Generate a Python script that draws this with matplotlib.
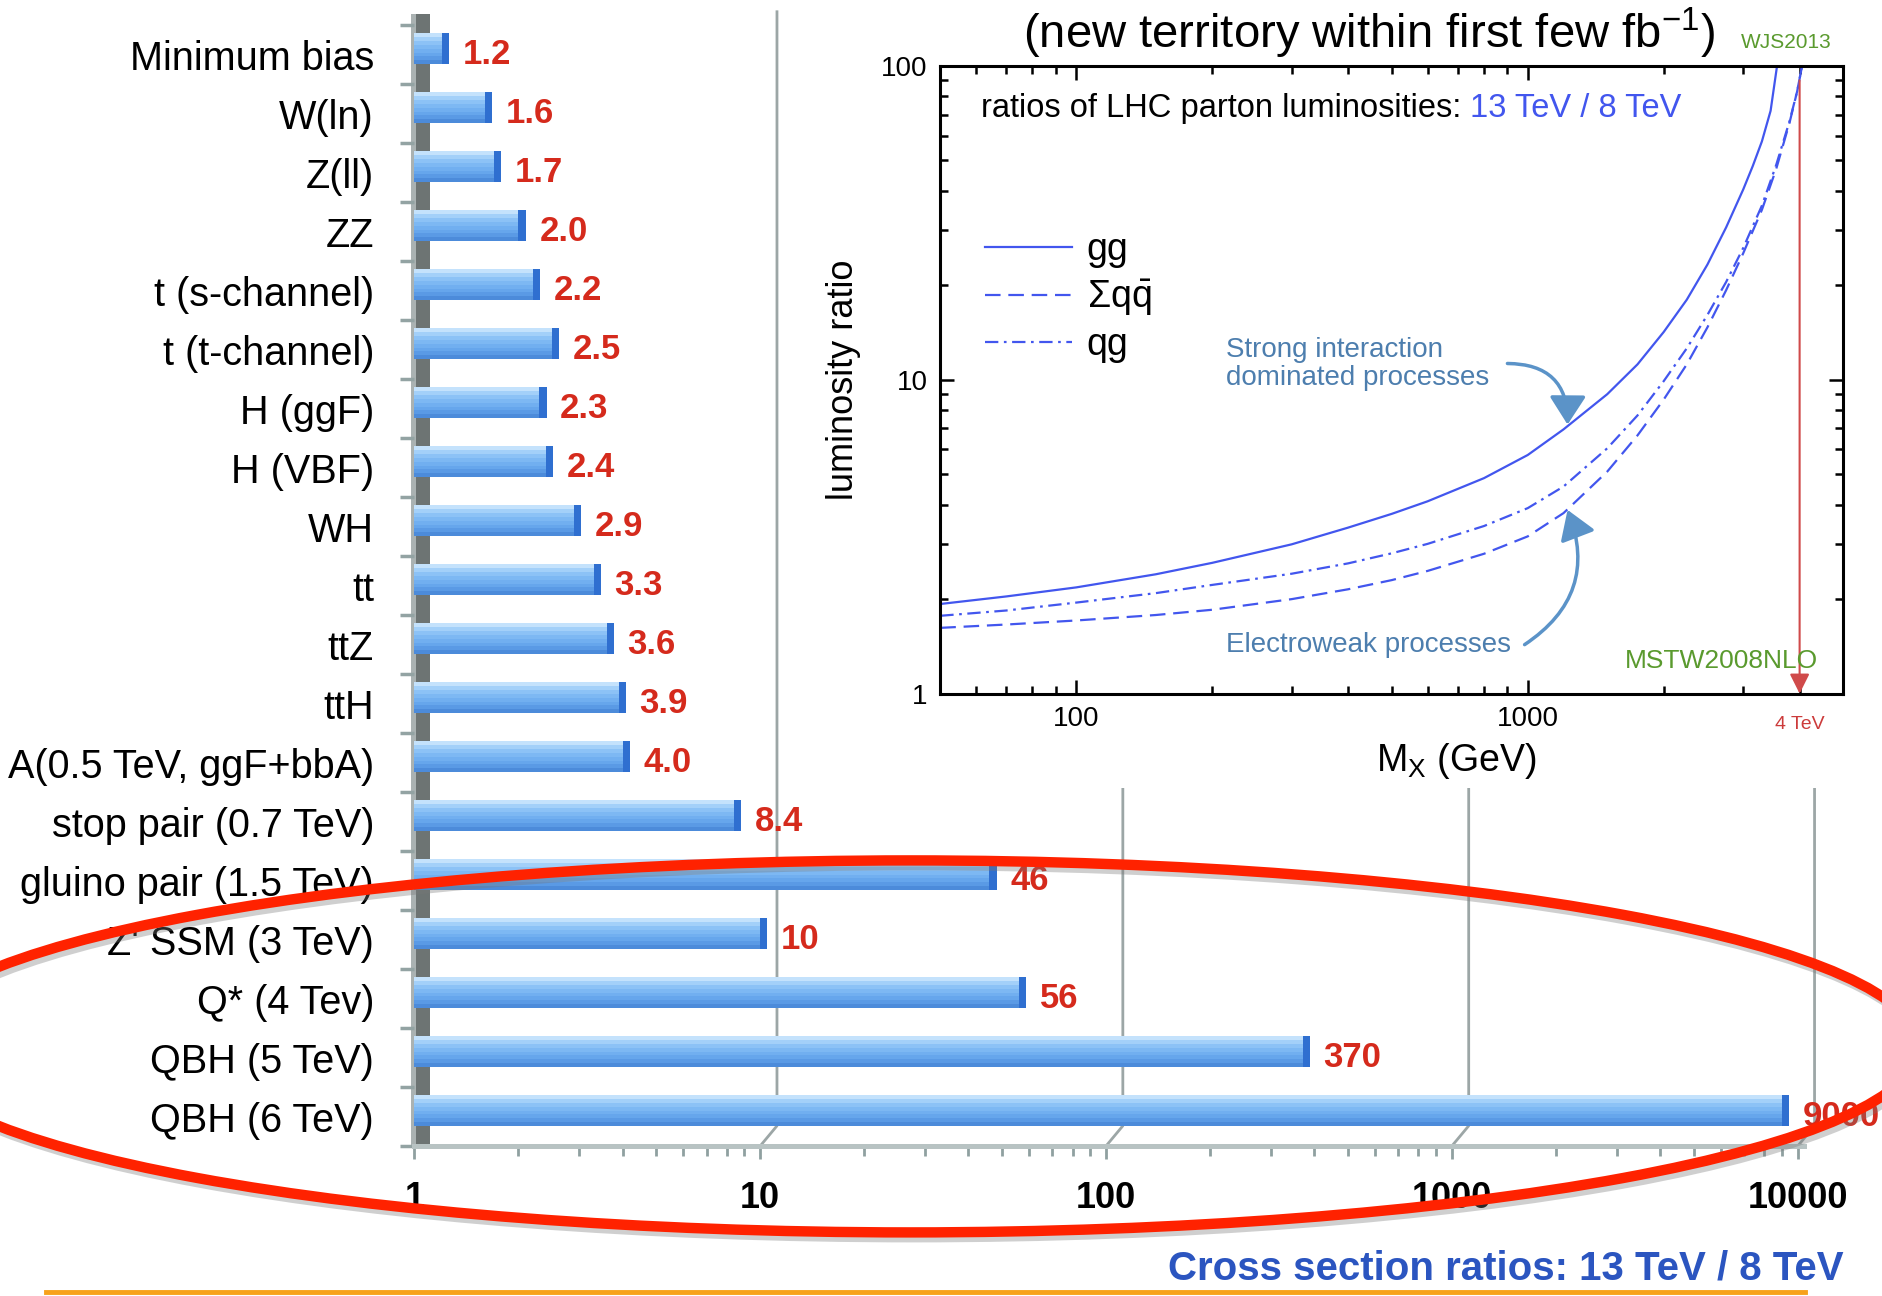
import numpy as np
import matplotlib
import matplotlib.pyplot as plt
from matplotlib.patches import Rectangle, Ellipse
from matplotlib.lines import Line2D
from matplotlib.ticker import LogLocator, NullFormatter, FuncFormatter

matplotlib.use("Agg")

plt.rcParams['font.family'] = ['Liberation Sans', 'DejaVu Sans']
plt.rcParams['mathtext.fontset'] = 'custom'
plt.rcParams['mathtext.rm'] = 'Liberation Sans'
plt.rcParams['mathtext.it'] = 'Liberation Sans:italic'

# cross section ratios 13 TeV / 8 TeV
processes = ['Minimum bias', 'W(ln)', 'Z(ll)', 'ZZ', 't (s-channel)', 't (t-channel)',
             'H (ggF)', 'H (VBF)', 'WH', 'tt', 'ttZ', 'ttH', 'A(0.5 TeV, ggF+bbA)',
             'stop pair (0.7 TeV)', 'gluino pair (1.5 TeV)', "Z' SSM (3 TeV)",
             'Q* (4 Tev)', 'QBH (5 TeV)', 'QBH (6 TeV)']
ratios = [1.2, 1.6, 1.7, 2.0, 2.2, 2.5, 2.3, 2.4, 2.9, 3.3, 3.6, 3.9, 4.0, 8.4,
          46, 10, 56, 370, 9000]
ratio_text = ['1.2', '1.6', '1.7', '2.0', '2.2', '2.5', '2.3', '2.4', '2.9', '3.3',
              '3.6', '3.9', '4.0', '8.4', '46', '10', '56', '370', '9000']
xticks_main = [1, 10, 100, 1000, 10000]

# parton luminosity ratios 13 / 8 TeV (inset)
gg_mass = [50, 70, 100, 150, 200, 300, 400, 500, 600, 800, 1000, 1200, 1500, 1750,
           2000, 2250, 2500, 2750, 3000, 3150, 3300, 3450, 3565]
gg_ratio = [1.93, 2.04, 2.18, 2.40, 2.61, 2.99, 3.38, 3.74, 4.10, 4.86, 5.76, 6.95, 9.0,
            11.2, 14.2, 18.0, 23.3, 30.6, 40.4, 48, 57.5, 72, 100]
qq_mass = [50, 70, 100, 150, 200, 300, 400, 500, 600, 800, 1000, 1200, 1500, 1750,
           2000, 2250, 2500, 2750, 3000, 3300, 3550, 3800, 3950, 4050]
qq_ratio = [1.62, 1.66, 1.71, 1.78, 1.85, 2.00, 2.15, 2.30, 2.46, 2.79, 3.17, 3.76, 5.1,
            6.65, 8.65, 11.2, 14.7, 19.3, 25.3, 34.8, 47, 66, 83, 100]
qg_mass = [50, 70, 100, 150, 200, 300, 400, 500, 600, 800, 1000, 1200, 1500, 1750,
           2000, 2250, 2500, 2750, 3000, 3300, 3550, 3800, 3950, 4050]
qg_ratio = [1.77, 1.84, 1.95, 2.09, 2.22, 2.41, 2.60, 2.80, 3.00, 3.42, 3.90, 4.57, 6.05,
            7.7, 9.9, 12.6, 16.1, 20.5, 26.3, 35.9, 48.4, 66.7, 83, 100]

# layout grid (reference drawn on a 1568 x 1080 grid)
GW, GH = 1568.0, 1080.0
def fx(x):
    return x / GW
def fy(y):
    return 1 - y / GH

fig = plt.figure(figsize=(18.83, 12.96), dpi=100)

# ---------------- main bar chart ----------------
ax = fig.add_axes([fx(345), fy(955), fx(1568 - 345), (955 - 21) / GH])
ax.set_zorder(0)
decade = 288.0
ax.set_xscale('log')
ax.set_xlim(1, 10 ** ((1568 - 345) / decade))
ax.set_ylim(len(processes) - 0.5, -0.5)

ypos = np.arange(len(processes))
vals = np.array(ratios)
bar_h = 0.52
strip_cols = ['#c4e2fc', '#a3d0f9', '#8cc2f6', '#7db8f3', '#71aff0', '#66a6ec', '#5a9ae5', '#4c8bda']
n = len(strip_cols)
for k, c in enumerate(strip_cols):
    off = -0.1 - bar_h / 2 + (k + 0.5) * bar_h / n
    ax.barh(ypos + off, vals - 1, left=1, height=bar_h / n, color=c, lw=0, zorder=3)
# dark blue end caps
cap = 10 ** (6 / decade)
ax.barh(ypos - 0.1, vals * cap - vals, left=vals, height=bar_h, color='#2f6fd0', lw=0, zorder=3)

for i, (v, t) in enumerate(zip(ratios, ratio_text)):
    ax.annotate(t, xy=(v, i), xytext=(15, 0), textcoords='offset points', ha='left',
                va='center', color='#d52a1c', fontsize=25, fontweight='bold',
                annotation_clip=False, zorder=4)

# back wall gridlines (3D offset)
depth = 10 ** (14 / decade)
for g in [10, 100, 1000, 10000]:
    ax.plot([g, g * depth, g * depth], [0, 0.018, 1.012], transform=ax.get_xaxis_transform(),
            color='#9ca6a6', lw=2, clip_on=False, zorder=1)

# left wall
ax.add_patch(Rectangle((fx(342), fy(955)), fx(4), (955 - 12) / GH, transform=fig.transFigure,
                       color='#aab2b2', lw=0, clip_on=False, zorder=1.5))
ax.add_patch(Rectangle((fx(346), fy(955)), fx(12), (955 - 12) / GH, transform=fig.transFigure,
                       color='#6d7473', lw=0, clip_on=False, zorder=1.5))

for s in ['top', 'right', 'left']:
    ax.spines[s].set_visible(False)
ax.spines['bottom'].set_color('#b8c3c3')
ax.spines['bottom'].set_linewidth(3.6)
ax.spines['bottom'].set_bounds(1, 10400)

ax.set_yticks(ypos)
ax.set_yticklabels(processes, fontsize=28.5)
ax.set_yticks(np.arange(-0.5, len(processes), 1), minor=True)
ax.tick_params(axis='y', which='major', length=0, pad=29)
ax.tick_params(axis='y', which='minor', length=10, width=2.5, color='#93a3a3')

ax.set_xticks(xticks_main)
ax.set_xticklabels([str(t) for t in xticks_main], fontsize=26, fontweight='bold')
ax.xaxis.set_minor_locator(LogLocator(base=10, subs=np.arange(2, 10)))
ax.xaxis.set_minor_formatter(NullFormatter())
ax.tick_params(axis='x', which='major', length=9, width=2, color='#8fa0a0', pad=16)
ax.tick_params(axis='x', which='minor', length=7, width=2, color='#8fa0a0')
ax.patch.set_visible(False)

# ---------------- inset (parton luminosities) ----------------
fig.add_artist(Rectangle((fx(655), fy(657)), fx(1568 - 655), 657 / GH, transform=fig.transFigure,
                         color='white', lw=0, zorder=1))

axi = fig.add_axes([fx(783), fy(578), fx(752), 523 / GH])
axi.set_zorder(2)
blue = '#4256ee'
axi.plot(gg_mass, gg_ratio, color=blue, lw=1.6, label='gg')
axi.plot(qq_mass, qq_ratio, color=blue, lw=1.6, ls=(0, (7, 3.5)),
         label=r'$\Sigma\mathrm{q}\bar{\mathrm{q}}$')
axi.plot(qg_mass, qg_ratio, color=blue, lw=1.6, ls=(0, (6, 2.5, 1.2, 2.5)), label='qg')
axi.set_xscale('log')
axi.set_yscale('log')
axi.set_xlim(50, 5000)
axi.set_ylim(1, 100)
for s in axi.spines.values():
    s.set_linewidth(2.2)
fmt = FuncFormatter(lambda v, p: f'{v:g}')
axi.xaxis.set_major_formatter(fmt)
axi.yaxis.set_major_formatter(fmt)
axi.xaxis.set_minor_formatter(NullFormatter())
axi.yaxis.set_minor_formatter(NullFormatter())
axi.tick_params(which='both', direction='in', top=True, right=True, labelsize=20, width=1.8)
axi.tick_params(which='major', length=10, pad=9)
axi.tick_params(which='minor', length=6)
axi.set_xlabel(r'M$_{\mathrm{X}}$ (GeV)', fontsize=27)
axi.xaxis.set_label_coords(0.571, -0.075)
axi.set_ylabel('luminosity ratio', fontsize=26)
axi.yaxis.set_label_coords(-0.088, 0.5)

axi.legend(loc='upper left', bbox_to_anchor=(0.05, 0.735), frameon=False, fontsize=27,
           handlelength=2.3, handletextpad=0.4, labelspacing=0.25, borderpad=0,
           borderaxespad=0)

t1 = axi.text(0.045, 0.932, 'ratios of LHC parton luminosities: ', transform=axi.transAxes,
              fontsize=23.5, ha='left', va='center')
axi.annotate('13 TeV / 8 TeV', xy=(1, 0), xycoords=t1, ha='left', va='bottom',
             fontsize=23.5, color=blue)

steel = '#4d7eae'
axi.text(0.3165, 0.525, 'Strong interaction\ndominated processes', transform=axi.transAxes,
         fontsize=20, color=steel, ha='left', va='center', linespacing=1.1)
axi.annotate('', xy=(1225, 7.2), xytext=(0.628, 0.526), textcoords='axes fraction',
             arrowprops=dict(arrowstyle='-|>,head_length=0.7,head_width=0.45',
                             connectionstyle='arc3,rad=-0.5', color='#5b93c8', lw=2.5,
                             mutation_scale=25, shrinkA=0, shrinkB=0))
axi.text(0.3165, 0.077, 'Electroweak processes', transform=axi.transAxes,
         fontsize=20, color=steel, ha='left', va='center')
axi.annotate('', xy=(1225, 3.85), xytext=(0.647, 0.078), textcoords='axes fraction',
             arrowprops=dict(arrowstyle='-|>,head_length=0.7,head_width=0.45',
                             connectionstyle='arc3,rad=0.4', color='#5b93c8', lw=2.5,
                             mutation_scale=25, shrinkA=0, shrinkB=0))

# 4 TeV marker
axi.annotate('', xy=(4000, 1), xytext=(4000, 90),
             arrowprops=dict(arrowstyle='-|>,head_length=0.6,head_width=0.3', color='#d04a4a',
                             lw=1.5, mutation_scale=20, shrinkA=0, shrinkB=0))
axi.text(4000, -0.05, '4 TeV', transform=axi.get_xaxis_transform(), color='#cc3b3b',
         fontsize=14, ha='center', va='center')
axi.text(0.972, 0.052, 'MSTW2008NLO', transform=axi.transAxes, color='#5a9a2e',
         fontsize=19, ha='right', va='center')

fig.text(fx(1140), fy(28), '(new territory within first few fb$^{-1}$)', fontsize=34,
         ha='center', va='center', zorder=3)
fig.text(fx(1450), fy(35), 'WJS2013', fontsize=15, color='#5a9a2e', ha='left', va='center',
         zorder=3)

# ---------------- highlight ellipse and footer ----------------
fig.add_artist(Ellipse((fx(761), fy(876)), fx(1680), 310 / GH, transform=fig.transFigure,
                       fill=False, edgecolor='#777777', alpha=0.35, lw=7.5, zorder=9))
fig.add_artist(Ellipse((fx(758), fy(872)), fx(1680), 310 / GH, transform=fig.transFigure,
                       fill=False, edgecolor='#ff2200', lw=7.5, zorder=10))

fig.text(fx(1535), fy(1057), 'Cross section ratios: 13 TeV / 8 TeV', fontsize=29,
         fontweight='bold', color='#2b55c0', ha='right', va='center', zorder=3)
fig.add_artist(Line2D([fx(38), fx(1503)], [fy(1077), fy(1077)], transform=fig.transFigure,
                      color='#f7a21b', lw=3.5, zorder=3))

fig.savefig('out.png', dpi=100)
